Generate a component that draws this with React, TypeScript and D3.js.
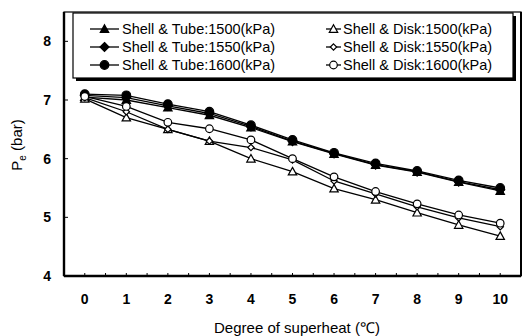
import React from 'react';
import * as d3 from 'd3';

const xs = [0, 1, 2, 3, 4, 5, 6, 7, 8, 9, 10];
const yTicks = [4, 5, 6, 7, 8];
const tube1500 = [7.05, 7.0, 6.87, 6.74, 6.53, 6.29, 6.08, 5.89, 5.77, 5.6, 5.45];
const tube1550 = [7.08, 7.04, 6.9, 6.77, 6.55, 6.3, 6.09, 5.9, 5.78, 5.61, 5.47];
const tube1600 = [7.1, 7.08, 6.93, 6.8, 6.57, 6.32, 6.1, 5.92, 5.79, 5.63, 5.5];
const disk1500 = [7.02, 6.7, 6.5, 6.3, 6.0, 5.78, 5.49, 5.3, 5.08, 4.87, 4.68];
const disk1550 = [7.04, 6.8, 6.5, 6.3, 6.19, 5.98, 5.62, 5.4, 5.18, 4.99, 4.84];
const disk1600 = [7.06, 6.89, 6.62, 6.51, 6.32, 6.0, 5.69, 5.44, 5.23, 5.04, 4.9];

const seriesNames = [
  'Shell & Tube:1500(kPa)',
  'Shell & Tube:1550(kPa)',
  'Shell & Tube:1600(kPa)',
  'Shell & Disk:1500(kPa)',
  'Shell & Disk:1550(kPa)',
  'Shell & Disk:1600(kPa)',
];
const seriesValues = [tube1500, tube1550, tube1600, disk1500, disk1550, disk1600];
const seriesShapes = ['triangle', 'diamond', 'circle', 'triangle', 'diamond', 'circle'];
const seriesFilled = [true, true, true, false, false, false];

const FONT = 'Liberation Sans, Arial, Helvetica, sans-serif';

function Marker({ shape, filled, cx, cy }: { shape: string; filled: boolean; cx: number; cy: number }) {
  const fill = filled ? '#000' : '#fff';
  if (shape === 'triangle') {
    const s = 4.2;
    const pts = `${cx},${cy - s} ${cx + s},${cy + s * 0.8} ${cx - s},${cy + s * 0.8}`;
    return <polygon points={pts} fill={fill} stroke="#000" strokeWidth={1.2} />;
  }
  if (shape === 'diamond') {
    const s = filled ? 4.5 : 3.2;
    const pts = `${cx},${cy - s} ${cx + s},${cy} ${cx},${cy + s} ${cx - s},${cy}`;
    return <polygon points={pts} fill={fill} stroke="#000" strokeWidth={1.2} />;
  }
  return <circle cx={cx} cy={cy} r={filled ? 4.3 : 3.8} fill={fill} stroke="#000" strokeWidth={1.2} />;
}

export default function App() {
  const W = 526, H = 336;
  const left = 64, right = 521, top = 12, bottom = 276;
  const x = d3.scaleLinear().domain([-0.5, 10.5]).range([left, right]);
  const y = d3.scaleLinear().domain([4, 8.5]).range([bottom, top]);
  const line = d3.line<number>().x((_, i) => x(xs[i])).y((d) => y(d));
  const halfTicks = d3.range(-0.5, 10.51, 0.5);

  const legendRows = [29, 47, 65];
  return (
    <svg width={W} height={H} style={{ position: 'absolute', left: 0, top: 0, background: '#fff' }} fontFamily={FONT}>
      <rect x={0} y={0} width={W} height={H} fill="#fff" />
      {/* series */}
      {seriesValues.map((vals, si) => (
        <path key={'l' + si} d={line(vals) || ''} fill="none" stroke="#000" strokeWidth={1.3} />
      ))}
      {seriesValues.map((vals, si) =>
        vals.map((v, i) => (
          <Marker key={`m${si}-${i}`} shape={seriesShapes[si]} filled={seriesFilled[si]} cx={x(xs[i])} cy={y(v)} />
        ))
      )}
      {/* frame */}
      <rect x={left} y={top} width={right - left} height={bottom - top} fill="none" stroke="#000" strokeWidth={1.2} />
      <line x1={left} x2={left} y1={top} y2={bottom} stroke="#000" strokeWidth={2.4} />
      <line x1={left} x2={right} y1={bottom} y2={bottom} stroke="#000" strokeWidth={2.4} />
      <line x1={right} x2={right} y1={top} y2={bottom} stroke="#000" strokeWidth={2} />
      {/* ticks */}
      {yTicks.map((t) => (
        <g key={'yt' + t}>
          <line x1={left} x2={left + 4} y1={y(t)} y2={y(t)} stroke="#000" strokeWidth={1} />
          <text x={51} y={y(t)} dy="0.35em" textAnchor="end" fontSize={14} fontWeight="bold">
            {t}
          </text>
        </g>
      ))}
      {halfTicks.map((t) => (
        <line key={'xt' + t} x1={x(t)} x2={x(t)} y1={bottom} y2={bottom - 3} stroke="#000" strokeWidth={1} />
      ))}
      {xs.map((t) => (
        <text key={'xl' + t} x={x(t)} y={304} textAnchor="middle" fontSize={14} fontWeight="bold">
          {t}
        </text>
      ))}
      {/* axis titles */}
      <text x={297} y={333} textAnchor="middle" fontSize={15}>
        Degree of superheat (℃)
      </text>
      <text transform="translate(22,145) rotate(-90)" textAnchor="middle" fontSize={15}>
        P<tspan fontSize={10} dy={4}>e</tspan>
        <tspan dy={-4}> (bar)</tspan>
      </text>
      {/* legend */}
      <rect x={76} y={16} width={440} height={65} fill="#000" />
      <rect x={73} y={13} width={440} height={65} fill="#fff" stroke="#000" strokeWidth={1.2} />
      {seriesNames.map((name, si) => {
        const col = si < 3 ? 0 : 1;
        const row = si % 3;
        const ly = legendRows[row];
        const x1 = col === 0 ? 90 : 326;
        const x2 = col === 0 ? 119 : 341;
        const tx = col === 0 ? 122 : 343;
        return (
          <g key={'lg' + si}>
            <line x1={x1} x2={x2} y1={ly} y2={ly} stroke="#000" strokeWidth={1.3} />
            <Marker shape={seriesShapes[si]} filled={seriesFilled[si]} cx={(x1 + x2) / 2} cy={ly} />
            <text x={tx} y={ly} dy="0.36em" fontSize={14.5}>
              {name}
            </text>
          </g>
        );
      })}
    </svg>
  );
}
